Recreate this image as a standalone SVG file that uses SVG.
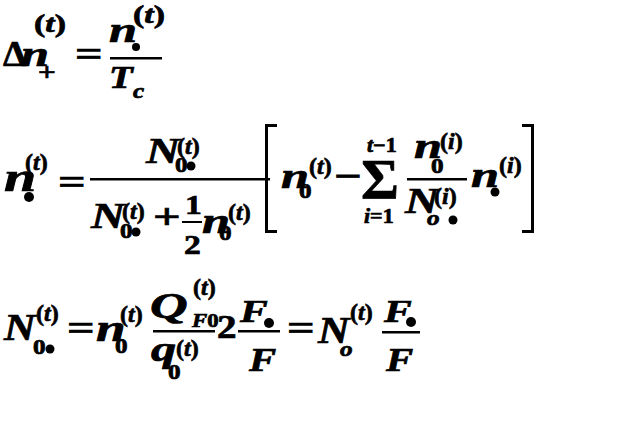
<svg xmlns="http://www.w3.org/2000/svg" width="620" height="448" viewBox="0 0 620 448">
<style>
text { font-family: "Liberation Serif", "Times New Roman", serif; font-weight: bold; fill: #000; stroke: #000; stroke-width: 0.7; }
.i { font-style: italic; }
.m { font-size: 36px; }
.s { font-size: 24px; }
.ss { font-size: 21px; }
.bar { fill: #000; }
.br { fill: none; stroke: #000; stroke-width: 3; }
</style>
<rect width="620" height="448" fill="#fff"/>

<g id="eq1">
  <text class="m" style="font-size:36px" transform="translate(3,66) scale(1.05,1)">Δ</text>
  <text class="m i" transform="translate(21,66) scale(1.4,1)">n</text>
  <text class="s" style="font-size:26px" transform="translate(34,32) scale(1.3,1)">(<tspan class="i">t</tspan>)</text>
  <text class="ss" style="font-size:26px" transform="translate(38,81) scale(1.2,1)">+</text>
  <text class="m" transform="translate(75,66) scale(1.35,1)">=</text>
  <text class="m i" transform="translate(109,42) scale(1.4,1)">n</text>
  <circle cx="136" cy="47" r="4"/>
  <text class="s" style="font-size:26px" transform="translate(133,23) scale(1.3,1)">(<tspan class="i">t</tspan>)</text>
  <rect class="bar" x="110" y="57" width="52" height="2.5"/>
  <text class="m i" style="font-size:31px" transform="translate(109,88) scale(1.25,1)">T</text>
  <text class="ss i" transform="translate(133,98) scale(1.2,1)">c</text>
</g>

<g id="eq2">
  <text class="m i" style="font-size:40px" transform="translate(4,191) scale(1.45,1)">n</text>
  <circle cx="29" cy="197" r="5"/>
  <text class="s" transform="translate(25,170)">(<tspan class="i">t</tspan>)</text>
  <text class="m" transform="translate(58,194) scale(1.35,1)">=</text>
  <rect class="bar" x="90" y="178" width="180" height="2.5"/>

  <text class="m i" transform="translate(146,163) scale(1.3,1)">N</text>
  <text class="s" transform="translate(177,154)">(<tspan class="i">t</tspan>)</text>
  <text class="ss" transform="translate(175,172) scale(1.2,1)">0</text>
  <circle cx="191" cy="166" r="4.5"/>

  <text class="m i" transform="translate(91,228) scale(1.3,1)">N</text>
  <text class="s" transform="translate(122,219)">(<tspan class="i">t</tspan>)</text>
  <text class="ss" transform="translate(120,238) scale(1.2,1)">0</text>
  <circle cx="136" cy="232" r="4.5"/>
  <text class="m" transform="translate(153,229) scale(1.35,1)">+</text>
  <text class="m" style="font-size:28px" transform="translate(185,214) scale(1.2,1)">1</text>
  <rect class="bar" x="182" y="221" width="20" height="2"/>
  <text class="m" style="font-size:28px" transform="translate(184,254) scale(1.2,1)">2</text>
  <text class="m i" transform="translate(202,233) scale(1.4,1)">n</text>
  <text class="s" transform="translate(228,220)">(<tspan class="i">t</tspan>)</text>
  <text class="ss" transform="translate(219,240) scale(1.2,1)">0</text>

  <path class="br" d="M277,125.5 H266.5 V231.5 H277"/>
  <text class="m i" transform="translate(281,188) scale(1.4,1)">n</text>
  <text class="s" transform="translate(309,174)">(<tspan class="i">t</tspan>)</text>
  <text class="ss" transform="translate(299,198) scale(1.2,1)">0</text>
  <text class="m" transform="translate(334,188) scale(1.35,1)">−</text>
  <text class="m" style="font-size:58px" transform="translate(361,199)">Σ</text>
  <text class="ss" style="font-size:20px" transform="translate(367,152) scale(1.1,1)"><tspan class="i">t</tspan>−1</text>
  <text class="ss" style="font-size:20px" transform="translate(364,223) scale(1.1,1)"><tspan class="i">i</tspan>=1</text>
  <text class="m i" transform="translate(414,158) scale(1.4,1)">n</text>
  <text class="s" transform="translate(440,149)">(<tspan class="i">i</tspan>)</text>
  <text class="ss" transform="translate(431,173) scale(1.2,1)">0</text>
  <rect class="bar" x="407" y="178" width="60" height="2.5"/>
  <text class="m i" transform="translate(405,213) scale(1.3,1)">N</text>
  <text class="s" transform="translate(434,204)">(<tspan class="i">i</tspan>)</text>
  <text class="ss i" transform="translate(427,225) scale(1.2,1)">o</text>
  <circle cx="453" cy="220" r="4.5"/>
  <text class="m i" transform="translate(471,187) scale(1.4,1)">n</text>
  <circle cx="495" cy="192" r="4.5"/>
  <text class="s" transform="translate(499,173)">(<tspan class="i">i</tspan>)</text>
  <path class="br" d="M522,125.5 H532.5 V231.5 H522"/>
</g>

<g id="eq3">
  <text class="m i" style="font-size:38px" transform="translate(4,340) scale(1.15,1)">N</text>
  <text class="s" transform="translate(36,321)">(<tspan class="i">t</tspan>)</text>
  <text class="ss" transform="translate(33,354) scale(1.2,1)">0</text>
  <circle cx="50" cy="349" r="4.5"/>
  <text class="m" transform="translate(67,340) scale(1.35,1)">=</text>
  <text class="m i" style="font-size:38px" transform="translate(96,341) scale(1.4,1)">n</text>
  <text class="s" transform="translate(120,322)">(<tspan class="i">t</tspan>)</text>
  <text class="ss" transform="translate(115,353) scale(1.2,1)">0</text>

  <text class="m i" transform="translate(150,318) scale(1.45,1)">Q</text>
  <text class="s" transform="translate(193,295)">(<tspan class="i">t</tspan>)</text>
  <text class="ss" style="font-size:19px" transform="translate(192,327) scale(1.2,1)"><tspan class="i">F</tspan>0</text>
  <rect class="bar" x="153" y="330" width="62" height="2.5"/>
  <text class="m i" transform="translate(151,361) scale(1.4,1)">q</text>
  <text class="s" transform="translate(176,356)">(<tspan class="i">t</tspan>)</text>
  <text class="ss" transform="translate(168,379) scale(1.2,1)">0</text>
  <text class="m" style="font-size:34px" transform="translate(217,338) scale(1.15,1)">2</text>

  <text class="m i" style="font-size:32px" transform="translate(240,322) scale(1.3,1)">F</text>
  <circle cx="269" cy="323" r="5"/>
  <rect class="bar" x="238" y="330" width="42" height="2.5"/>
  <text class="m i" style="font-size:34px" transform="translate(249,371) scale(1.2,1)">F</text>
  <text class="m" transform="translate(287,340) scale(1.35,1)">=</text>
  <text class="m i" style="font-size:38px" transform="translate(318,343) scale(1.15,1)">N</text>
  <text class="s" transform="translate(350,320)">(<tspan class="i">t</tspan>)</text>
  <text class="ss i" transform="translate(340,356) scale(1.2,1)">o</text>
  <text class="m i" style="font-size:32px" transform="translate(384,322) scale(1.3,1)">F</text>
  <circle cx="411" cy="322" r="5"/>
  <rect class="bar" x="382" y="331" width="38" height="2.5"/>
  <text class="m i" style="font-size:34px" transform="translate(386,371) scale(1.2,1)">F</text>
</g>
</svg>
